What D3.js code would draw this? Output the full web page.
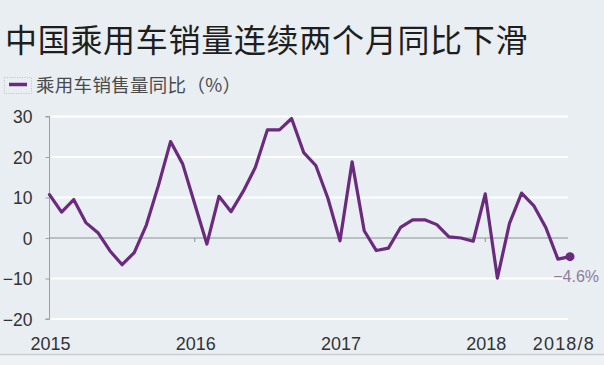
<!DOCTYPE html>
<html><head><meta charset="utf-8">
<script src="https://cdn.jsdelivr.net/npm/d3@7"></script>
<style>
html,body{margin:0;padding:0;background:#e8eef2;}
svg{display:block;}
</style></head>
<body>
<svg id="c" width="604" height="365"></svg>
<script>
const title = "中国乘用车销量连续两个月同比下滑";
const seriesName = "乘用车销售量同比（%）";
const months = [
 "2015/1","2015/2","2015/3","2015/4","2015/5","2015/6","2015/7","2015/8","2015/9","2015/10","2015/11","2015/12",
 "2016/1","2016/2","2016/3","2016/4","2016/5","2016/6","2016/7","2016/8","2016/9","2016/10","2016/11","2016/12",
 "2017/1","2017/2","2017/3","2017/4","2017/5","2017/6","2017/7","2017/8","2017/9","2017/10","2017/11","2017/12",
 "2018/1","2018/2","2018/3","2018/4","2018/5","2018/6","2018/7","2018/8"];
const values = [
 10.7, 6.4, 9.5, 3.8, 1.3, -3.2, -6.6, -3.6, 3.2, 13.0, 23.8, 18.3,
 8.4, -1.5, 10.3, 6.5, 11.5, 17.4, 26.7, 26.7, 29.5, 21.1, 17.9, 9.8,
 -0.7, 18.8, 1.8, -3.1, -2.5, 2.6, 4.5, 4.5, 3.3, 0.3, 0.0, -0.8,
 10.9, -9.9, 3.6, 11.1, 8.0, 2.6, -5.2, -4.6];
const yTicks = [-20, -10, 0, 10, 20, 30];
const xTickLabels = ["2015", "2016", "2017", "2018", "2018/8"];
const endLabel = "−4.6%";

const svg = d3.select("#c");
const W = 604, H = 365;
const purple = "#6a2a7e";
const numFont = "'Liberation Sans', Arial, sans-serif";
const cjkFont = "'Noto Sans CJK SC', 'Noto Sans', sans-serif";

svg.append("rect").attr("width", W).attr("height", H).attr("fill", "#e8eef2");
svg.append("rect").attr("x", 0).attr("y", 355).attr("width", W).attr("height", 10).attr("fill", "#eef2f4");
svg.append("line").attr("x1", 0).attr("x2", W).attr("y1", 354.5).attr("y2", 354.5)
  .attr("stroke", "#c9cfd3").attr("stroke-width", 1.5);

const x = d3.scaleLinear().domain([0, months.length - 1]).range([49.5, 570]);
const y = d3.scaleLinear().domain([-20, 30]).range([319, 116.5]);

// title
svg.append("text").attr("x", 5).attr("y", 52)
  .attr("font-family", cjkFont).attr("font-size", 32).attr("letter-spacing", 0.7)
  .attr("fill", "#1e1e1e").text(title);

// legend
svg.append("rect").attr("x", 4.5).attr("y", 77.5).attr("width", 27).attr("height", 16)
  .attr("fill", "none").attr("stroke", "#b9c0c5").attr("stroke-dasharray", "1,1.5").attr("stroke-width", 1);
svg.append("line").attr("x1", 9).attr("x2", 27).attr("y1", 84.5).attr("y2", 84.5)
  .attr("stroke", purple).attr("stroke-width", 3.5);
svg.append("text").attr("x", 36).attr("y", 91.5)
  .attr("font-family", cjkFont).attr("font-size", 18.5).attr("letter-spacing", 0.3)
  .attr("fill", "#4a4a4a").text(seriesName);

// grid
const g = svg.append("g");
g.selectAll("line.grid").data(yTicks.filter(d => d !== 0)).join("line")
  .attr("x1", 51).attr("x2", 568).attr("y1", d => y(d)).attr("y2", d => y(d))
  .attr("stroke", "#ffffff").attr("stroke-width", 2.2);

// y axis
const yAxis = d3.axisLeft(y).tickValues(yTicks).tickSize(4).tickPadding(13)
  .tickFormat(d => d < 0 ? "−" + Math.abs(d) : String(d));
const ya = svg.append("g").attr("transform", "translate(49.5,0)").call(yAxis);
ya.select(".domain").attr("stroke", "#9aa0a4").attr("d", `M-4,${y(30)}H0V${y(-20)}H-4`);
ya.selectAll(".tick line").attr("stroke", "#9aa0a4");
ya.selectAll(".tick text").attr("font-family", numFont).attr("font-size", 17.5).attr("fill", "#333").attr("dy", "0.36em");

// zero line
svg.append("line").attr("x1", 49.5).attr("x2", 568).attr("y1", y(0)).attr("y2", y(0))
  .attr("stroke", "#8a9094").attr("stroke-width", 1.2);

// x ticks on zero line
const yearIdx = xTickLabels.map(l => months.indexOf(l.includes("/") ? l : l + "/1"));
svg.selectAll("line.xt").data(yearIdx.slice(1, 4)).join("line")
  .attr("x1", d => x(d)).attr("x2", d => x(d)).attr("y1", y(0)).attr("y2", y(0) + 4)
  .attr("stroke", "#8a9094").attr("stroke-width", 1);

// x labels
svg.selectAll("text.xl").data(xTickLabels).join("text")
  .attr("x", (d, i) => i === 4 ? 595 : x(yearIdx[i]) + 1)
  .attr("y", 350)
  .attr("text-anchor", (d, i) => i === 4 ? "end" : "middle")
  .attr("letter-spacing", (d, i) => i === 4 ? 1.2 : 0)
  .attr("font-family", numFont).attr("font-size", 18).attr("fill", "#333").text(d => d);

// line
const line = d3.line().x((d, i) => x(i)).y(d => y(d));
svg.append("path").datum(values).attr("d", line)
  .attr("fill", "none").attr("stroke", purple).attr("stroke-width", 3.2)
  .attr("stroke-linejoin", "round").attr("stroke-linecap", "round");

const li = values.length - 1;
svg.append("circle").attr("cx", x(li)).attr("cy", y(values[li])).attr("r", 4.5).attr("fill", purple);
svg.append("text").attr("x", 599).attr("y", 282).attr("text-anchor", "end")
  .attr("font-family", numFont).attr("font-size", 16).attr("fill", "#8f7c9c").text(endLabel);
</script>
</body></html>
